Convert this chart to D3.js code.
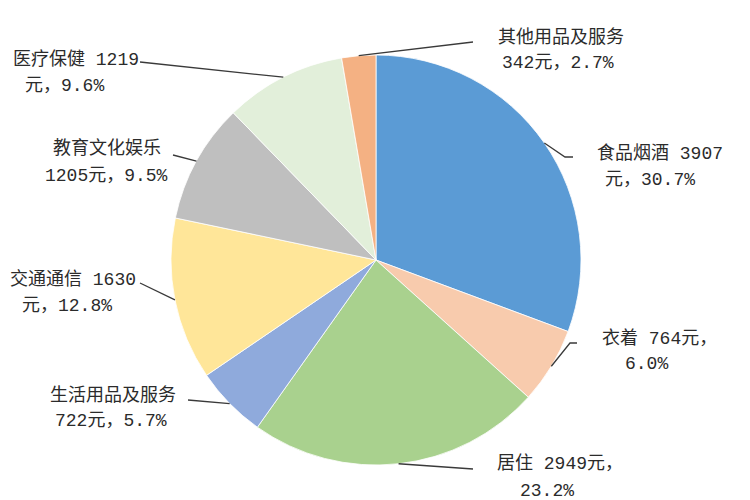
<!DOCTYPE html>
<html>
<head>
<meta charset="utf-8">
<script src="https://cdn.jsdelivr.net/npm/d3@7"></script>
<style>
  body { margin: 0; background: #fff; }
  svg text { font-family: "Liberation Mono", "Noto Sans CJK SC", sans-serif; font-size: 18px; fill: #2b2b2b; }
</style>
</head>
<body>
<svg id="chart" width="750" height="500"></svg>
<script>
// categories, in drawing order (clockwise from 12 o'clock)
const categories = ["食品烟酒", "衣着", "居住", "生活用品及服务", "交通通信", "教育文化娱乐", "医疗保健", "其他用品及服务"];
const amounts = [3907, 764, 2949, 722, 1630, 1205, 1219, 342];
const shares = ["30.7%", "6.0%", "23.2%", "5.7%", "12.8%", "9.5%", "9.6%", "2.7%"];
const colors = ["#5b9bd5", "#f8cbad", "#a9d18e", "#8faadc", "#ffe699", "#bfbfbf", "#e2efda", "#f4b183"];

// label text split on two lines like the original
const labelLines = categories.map((c, i) => {
    const a = amounts[i], p = shares[i];
    switch (c) {
        case "食品烟酒": return [c + " " + a, "元，" + p];
        case "衣着": return [c + " " + a + "元，", p];
        case "居住": return [c + " " + a + "元，", p];
        case "交通通信": return [c + " " + a, "元，" + p];
        case "医疗保健": return [c + " " + a, "元，" + p];
        default: return [c, a + "元，" + p];
    }
});

// label layout: text position per line, leader elbow/end
const labelLayout = [
    { x: [597, 605], y: [159, 185], leader: [[565, 157], [573, 157]] },
    { x: [602, 625], y: [344, 369], leader: [[570, 343], [577, 343]] },
    { x: [497, 520], y: [469, 496], leader: [[473, 469]] },
    { x: [50, 55],   y: [401, 426], leader: [[188, 400]] },
    { x: [10, 22],   y: [285, 311], leader: [[140, 283]] },
    { x: [53, 45],   y: [154, 181], leader: [[173, 155]] },
    { x: [13, 25],   y: [65, 91],   leader: [[140, 62]] },
    { x: [498, 502], y: [43, 68],   leader: [[473, 42]] }
];

const cx = 376, cy = 260, radius = 205;

const svg = d3.select("#chart");
const g = svg.append("g").attr("transform", `translate(${cx},${cy})`);

const pie = d3.pie().sort(null).value(d => d);
const arcs = pie(amounts);

const arc = d3.arc().innerRadius(0).outerRadius(radius);
const edgeArc = d3.arc().innerRadius(radius).outerRadius(radius);

// slices
g.selectAll("path.slice")
    .data(arcs)
    .enter().append("path")
    .attr("class", "slice")
    .attr("d", arc)
    .attr("fill", (d, i) => colors[i])
    .attr("stroke", "#ffffff")
    .attr("stroke-width", 0.8);

// leader lines
const line = d3.line();
svg.selectAll("path.leader")
    .data(arcs)
    .enter().append("path")
    .attr("class", "leader")
    .attr("d", (d, i) => {
        const c = edgeArc.centroid(d);
        const pts = [[c[0] + cx, c[1] + cy]].concat(labelLayout[i].leader);
        return line(pts);
    })
    .attr("fill", "none")
    .attr("stroke", "#3a3a3a")
    .attr("stroke-width", 1.3);

// labels
categories.forEach((c, i) => {
    const lay = labelLayout[i];
    labelLines[i].forEach((t, k) => {
        svg.append("text")
            .attr("x", lay.x[k])
            .attr("y", lay.y[k])
            .text(t);
    });
});
</script>
</body>
</html>
